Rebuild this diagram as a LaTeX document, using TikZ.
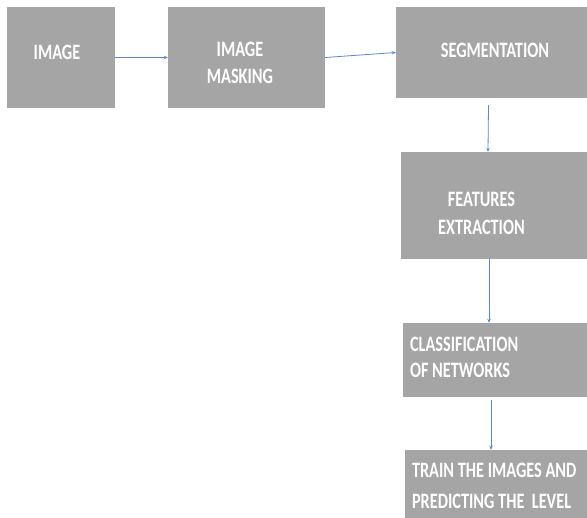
\documentclass[tikz,border=0pt]{standalone}
\usepackage{fontspec}
\usetikzlibrary{arrows.meta}
\newfontfamily\boxfont[FakeStretch=0.74]{Carlito Bold}
\definecolor{boxgray}{HTML}{A5A5A5}
\definecolor{arrowblue}{HTML}{5B87CC}
\tikzset{
    box/.style={fill=boxgray, inner sep=0pt},
    lbl/.style={text=white, inner sep=0pt, font=\boxfont\fontsize{22}{28}\selectfont},
    flow/.style={draw=arrowblue, line width=0.8pt, -{Stealth[length=4pt,width=3.5pt]}}
}
\begin{document}
\begin{tikzpicture}[x=1pt, y=-1pt]
        \useasboundingbox (0,0) rectangle (587,518);

        \node[box, minimum width=108pt, minimum height=101pt] (img) at (61,57.5) {};
        \node[box, minimum width=157pt, minimum height=101pt] (mask) at (246.5,57.5) {};
        \node[box, minimum width=191pt, minimum height=91pt] (seg) at (491.5,52.5) {};
        \node[box, minimum width=186pt, minimum height=107pt] (feat) at (494,205.5) {};
        \node[box, minimum width=184pt, minimum height=74pt] (class) at (495,360) {};
        \node[box, minimum width=182pt, minimum height=68pt] (train) at (496,484) {};

        % Texte
        \draw (img) +(-4,-12.5) node[lbl, anchor=north] (imgtxt) {IMAGE};
        \draw (mask) +(-6.5,-15.5) node[lbl, anchor=north, align=center] (masktxt) {IMAGE\\[-1pt]MASKING};
        \draw (seg) +(3.5,-9.5) node[lbl, anchor=north] (segtxt) {SEGMENTATION};
        \draw (feat) +(-12.5,-13.5) node[lbl, anchor=north, align=center] (feattxt) {FEATURES\\EXTRACTION};
        \draw (class.west) +(7,-23) node[lbl, anchor=north west, align=left] (classtxt) {CLASSIFICATION\\[-2pt]OF NETWORKS};
        \draw (train.west) +(7,-21) node[lbl, anchor=north west, align=left] (traintxt) {TRAIN THE IMAGES AND\\[3pt]PREDICTING THE\ \ LEVEL};

        % Pfeile
        \draw[flow] (img.east) -- (mask.west);
        \draw[flow] (mask.east) -- (seg.west);
        \draw[flow] ([xshift=-3pt,yshift=-7pt]seg.south) -- ([xshift=-6pt]feat.north);
        \draw[flow] ([xshift=-5pt]feat.south) -- ([xshift=-6pt]class.north);
        \draw[flow] ([xshift=-4pt,yshift=-3pt]class.south) -- ([xshift=-5pt]train.north);
    \end{tikzpicture}
\end{document}
